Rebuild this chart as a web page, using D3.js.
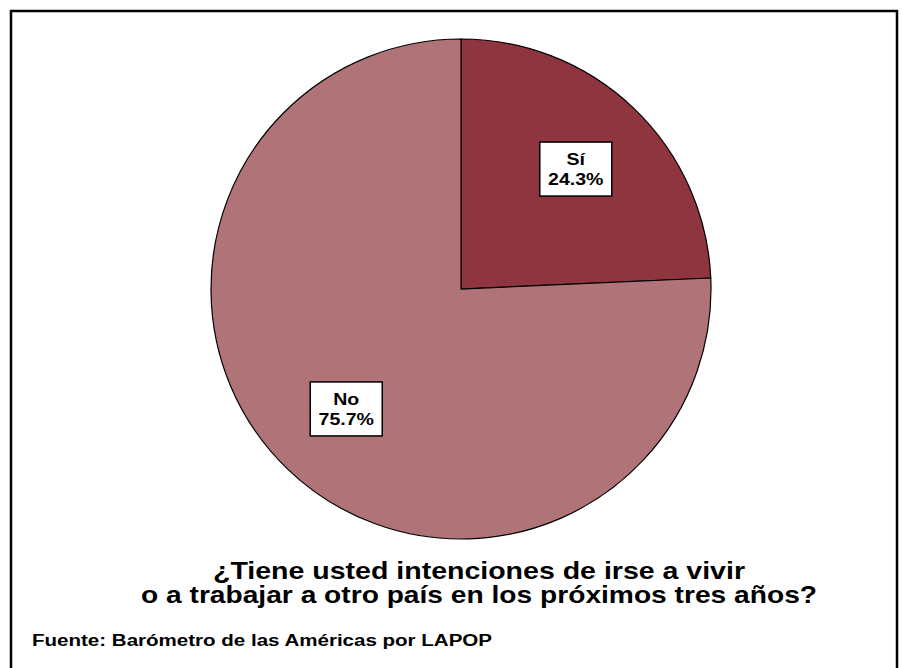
<!DOCTYPE html>
<html><head><meta charset="utf-8">
<script src="https://cdn.jsdelivr.net/npm/d3@7"></script>
<style>body{margin:0;background:#fff}svg{display:block}</style>
</head><body>
<script>
const categories = ["Sí", "No"];
const values = [24.3, 75.7];
const colors = ["#8E3540", "#B07377"];
const titleLines = ["¿Tiene usted intenciones de irse a vivir", "o a trabajar a otro país en los próximos tres años?"];
const source = "Fuente: Barómetro de las Américas por LAPOP";

const W = 902, H = 668;
const FONT = "Liberation Sans, Arial, sans-serif";
const svg = d3.select("body").append("svg").attr("width", W).attr("height", H);
svg.append("rect").attr("x", 11).attr("y", 11).attr("width", 886).attr("height", 670)
  .attr("fill", "none").attr("stroke", "#000").attr("stroke-width", 2.5);

const cx = 461, cy = 289, r = 250;
const data = categories.map((c, i) => ({cat: c, val: values[i], color: colors[i]}));
const pie = d3.pie().value(d => d.val).sort(null);
const arc = d3.arc().innerRadius(0).outerRadius(r);
const arcs = pie(data);
const g = svg.append("g").attr("transform", `translate(${cx},${cy})`);
g.selectAll("path").data(arcs).join("path")
  .attr("d", arc).attr("fill", d => d.data.color)
  .attr("stroke", "#000").attr("stroke-width", 1.2);

const labelArc = d3.arc().innerRadius(166).outerRadius(166);
const lab = g.selectAll("g.lab").data(arcs).join("g").attr("class", "lab")
  .attr("transform", d => { const [x, y] = labelArc.centroid(d); return `translate(${x},${y})`; });
lab.append("rect").attr("x", -36).attr("y", -27).attr("width", 72).attr("height", 54)
  .attr("fill", "#fff").attr("stroke", "#000").attr("stroke-width", 1.5);
lab.append("text").attr("text-anchor", "middle").attr("y", -4)
  .attr("font-family", FONT).attr("font-weight", "bold").attr("font-size", 17)
  .attr("transform", "scale(1.15,1)")
  .text(d => d.data.cat);
lab.append("text").attr("text-anchor", "middle").attr("y", 16)
  .attr("font-family", FONT).attr("font-weight", "bold").attr("font-size", 17)
  .attr("transform", "scale(1.15,1)")
  .text(d => d.data.val.toFixed(1) + "%");

const titleWidths = [532, 676];
svg.selectAll("text.title").data(titleLines).join("text").attr("class", "title")
  .attr("x", 479).attr("y", (d, i) => 579 + i * 24)
  .attr("text-anchor", "middle")
  .attr("font-family", FONT).attr("font-weight", "bold").attr("font-size", 24)
  .attr("textLength", (d, i) => titleWidths[i]).attr("lengthAdjust", "spacingAndGlyphs")
  .text(d => d);

svg.append("text").attr("x", 32).attr("y", 646)
  .attr("font-family", FONT).attr("font-weight", "bold").attr("font-size", 16)
  .attr("textLength", 460).attr("lengthAdjust", "spacingAndGlyphs")
  .text(source);
</script>
</body></html>
